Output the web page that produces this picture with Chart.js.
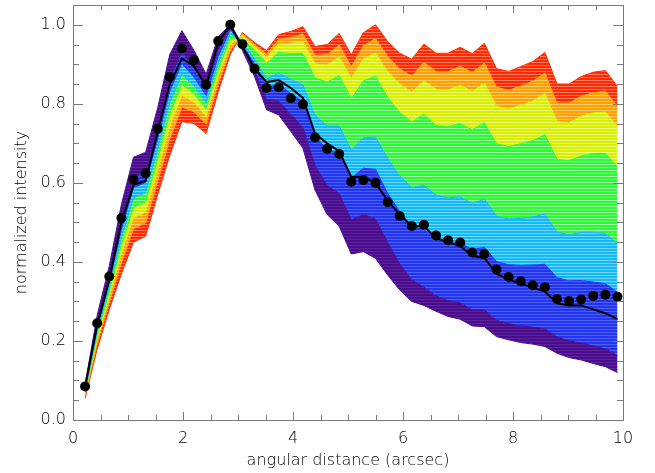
<!DOCTYPE html>
<html><head><meta charset="utf-8">
<script src="https://cdn.jsdelivr.net/npm/chart.js@4"></script>
<style>html,body{margin:0;padding:0;background:#fff}#wrap{width:655px;height:473px}</style>
</head><body><div id="wrap"><canvas id="c" width="655" height="473"></canvas></div>
<script>
// ---- data ----
const xArcsec = [0.22,0.44,0.66,0.88,1.10,1.32,1.54,1.76,1.98,2.20,2.42,2.64,2.86,3.08,3.30,3.52,3.74,3.96,4.18,4.40,4.62,4.84,5.06,5.28,5.50,5.72,5.94,6.16,6.38,6.60,6.82,7.04,7.26,7.48,7.70,7.92,8.14,8.36,8.58,8.80,9.02,9.24,9.46,9.68,9.90];

// envelope of the purple profiles
const purpleEdge = [0.09,0.265,0.39,0.545,0.665,0.677,0.79,0.925,0.985,0.935,0.875,0.97,1.0,0.935,0.869,0.785,0.772,0.73,0.688,0.582,0.52,0.49,0.42,0.426,0.409,0.367,0.329,0.30,0.29,0.275,0.262,0.255,0.238,0.236,0.211,0.203,0.196,0.192,0.186,0.169,0.158,0.152,0.143,0.135,0.12];
// purple / blue boundary
const purpleBlue = [0.082,0.245,0.365,0.505,0.616,0.628,0.739,0.866,0.932,0.892,0.841,0.938,0.995,0.94,0.884,0.811,0.807,0.773,0.740,0.644,0.593,0.573,0.506,0.520,0.509,0.450,0.395,0.355,0.336,0.314,0.302,0.296,0.279,0.279,0.252,0.244,0.238,0.235,0.231,0.210,0.200,0.195,0.187,0.180,0.163];
// blue / cyan boundary
const blueCyan = [0.077,0.234,0.350,0.482,0.588,0.601,0.711,0.833,0.902,0.868,0.821,0.920,0.988,0.948,0.902,0.842,0.849,0.826,0.805,0.720,0.683,0.675,0.612,0.637,0.634,0.574,0.527,0.490,0.482,0.458,0.448,0.448,0.431,0.437,0.401,0.393,0.391,0.392,0.394,0.360,0.352,0.353,0.349,0.345,0.323];
// cyan / green boundary
const cyanGreen = [0.073,0.224,0.337,0.461,0.562,0.575,0.684,0.803,0.875,0.846,0.803,0.903,0.978,0.955,0.914,0.863,0.878,0.862,0.848,0.771,0.744,0.744,0.682,0.714,0.716,0.663,0.617,0.588,0.594,0.569,0.562,0.565,0.548,0.559,0.516,0.509,0.510,0.514,0.521,0.475,0.469,0.475,0.475,0.472,0.446];
// green / yellow boundary
const greenYellow = [0.069,0.215,0.325,0.442,0.538,0.552,0.660,0.775,0.849,0.826,0.787,0.887,0.965,0.965,0.936,0.902,0.930,0.927,0.927,0.865,0.855,0.871,0.813,0.858,0.870,0.816,0.778,0.754,0.773,0.745,0.742,0.750,0.734,0.752,0.699,0.692,0.699,0.707,0.722,0.659,0.656,0.668,0.674,0.674,0.641];
// yellow / orange boundary
const yellowOrange = [0.065,0.205,0.312,0.421,0.512,0.526,0.634,0.744,0.822,0.804,0.769,0.871,0.950,0.972,0.945,0.917,0.951,0.953,0.958,0.901,0.898,0.919,0.864,0.914,0.929,0.881,0.850,0.830,0.858,0.837,0.835,0.847,0.831,0.853,0.794,0.787,0.796,0.807,0.826,0.755,0.753,0.769,0.777,0.779,0.743];
// orange / red boundary
const orangeRed = [0.061,0.194,0.298,0.398,0.484,0.499,0.605,0.711,0.792,0.780,0.749,0.852,0.935,0.977,0.950,0.926,0.963,0.968,0.977,0.923,0.924,0.949,0.894,0.947,0.965,0.920,0.889,0.870,0.905,0.882,0.881,0.895,0.879,0.903,0.842,0.834,0.845,0.857,0.878,0.802,0.802,0.819,0.828,0.832,0.793];
// envelope of the red profiles
const redEdge = [0.055,0.18,0.28,0.37,0.45,0.465,0.57,0.67,0.755,0.75,0.725,0.83,0.925,0.98,0.955,0.935,0.975,0.983,0.995,0.945,0.95,0.978,0.924,0.98,1.0,0.958,0.928,0.913,0.951,0.928,0.928,0.943,0.927,0.953,0.889,0.882,0.894,0.907,0.93,0.85,0.85,0.869,0.88,0.884,0.844];

// black profile (line) and black dots
const blackLine = [0.085,0.24,0.355,0.50,0.595,0.605,0.73,0.85,0.915,0.895,0.845,0.955,1.0,0.945,0.89,0.855,0.86,0.84,0.815,0.725,0.70,0.68,0.615,0.615,0.60,0.555,0.52,0.49,0.49,0.46,0.45,0.44,0.415,0.41,0.37,0.355,0.345,0.335,0.325,0.295,0.29,0.29,0.28,0.27,0.255];
const blackDots = [0.085,0.245,0.363,0.511,0.609,0.624,0.737,0.868,0.94,0.91,0.848,0.959,1.0,0.951,0.889,0.84,0.842,0.814,0.799,0.715,0.686,0.673,0.603,0.607,0.60,0.551,0.516,0.491,0.494,0.467,0.455,0.449,0.424,0.42,0.381,0.362,0.351,0.341,0.336,0.306,0.301,0.305,0.314,0.317,0.312];

const xTicks = [0,2,4,6,8,10];
const yTicks = [0.0,0.2,0.4,0.6,0.8,1.0];
const xMinorStep = 0.5, yMinorStep = 0.05;
const xTitle = 'angular distance (arcsec)';
const yTitle = 'normalized intensity';

// ---- styling ----
const curves = [purpleEdge, purpleBlue, blueCyan, cyanGreen, greenYellow, yellowOrange, orangeRed, redEdge];
const bandColors = ['#4a0c8e','#4a0c8e','#2236f0','#12b8f8','#30f838','#d8f000','#ffa000','#ff2a00'];
const gapAlpha = [0,0.1,0.2,0.4,0.55,0.5,0.45,0.4];

function stripe(color, a){
  const c = document.createElement('canvas'); c.width = 4; c.height = 3;
  const g = c.getContext('2d');
  g.fillStyle = color; g.fillRect(0,0,4,3);
  g.fillStyle = 'rgba(255,255,255,'+a+')'; g.fillRect(0,2,4,1);
  return g.createPattern(c,'repeat');
}

const datasets = curves.map((arr,k)=>({
  data: xArcsec.map((x,i)=>({x, y: arr[i]})),
  borderColor: bandColors[k],
  borderWidth: 1,
  backgroundColor: stripe(bandColors[k], gapAlpha[k]),
  fill: k === 0 ? false : '-1',
  pointRadius: 0, tension: 0, order: 2
}));
datasets.push({
  data: xArcsec.map((x,i)=>({x, y: blackLine[i]})),
  borderColor:'#000', borderWidth:2, pointRadius:0, fill:false, order:1
});
datasets.push({
  data: xArcsec.map((x,i)=>({x, y: blackDots[i]})),
  showLine:false, pointRadius:5, pointBackgroundColor:'#000', pointBorderColor:'#000', pointBorderWidth:0, order:0
});

const frame = {
  id:'frame',
  afterDraw(chart){
    const {ctx, chartArea:{left,right,top,bottom}, scales:{x,y}} = chart;
    ctx.save();
    ctx.strokeStyle = '#7a7a7a'; ctx.lineWidth = 1;
    ctx.strokeRect(Math.round(left)+0.5, Math.round(top)+0.5, Math.round(right-left), Math.round(bottom-top));
    const xmin = x.min, xmax = x.max;
    ctx.beginPath();
    for (let n = 0; xmin + n*xMinorStep <= xmax + 1e-9; n++){
      const v = xmin + n*xMinorStep;
      const px = Math.round(x.getPixelForValue(v)) + 0.5;
      const major = xTicks.some(t => Math.abs(t - v) < 1e-6);
      const L = major ? 8 : 5;
      ctx.moveTo(px, bottom); ctx.lineTo(px, bottom - L);
      ctx.moveTo(px, top); ctx.lineTo(px, top + L);
    }
    for (let n = 0; n*yMinorStep <= y.max + 1e-9; n++){
      const v = n*yMinorStep;
      const py = Math.round(y.getPixelForValue(v)) + 0.5;
      const major = yTicks.some(t => Math.abs(t - v) < 1e-6);
      const L = major ? 10 : 6;
      ctx.moveTo(left, py); ctx.lineTo(left + L, py);
      ctx.moveTo(right, py); ctx.lineTo(right - L, py);
    }
    ctx.stroke();
    ctx.restore();
  }
};

Chart.defaults.font.family = "'DejaVu Sans', sans-serif";
Chart.defaults.font.size = 16;
Chart.defaults.font.weight = '200';
Chart.defaults.color = '#000';

new Chart(document.getElementById('c'), {
  type:'line',
  data:{datasets},
  options:{
    responsive:false, animation:false, devicePixelRatio:1,
    layout:{padding:{top:5,right:32,left:0,bottom:0}},
    plugins:{legend:{display:false}, tooltip:{enabled:false}},
    scales:{
      x:{type:'linear', min:0, max:10,
        afterFit(s){ s.height = 53; s.paddingLeft = 0; s.paddingRight = 0; },
        afterBuildTicks(s){ s.ticks = xTicks.map(v=>({value:v})); },
        ticks:{padding:9, maxRotation:0, autoSkip:false, callback:v=>String(v)},
        grid:{display:false, drawTicks:false}, border:{display:false},
        title:{display:true, text:xTitle, padding:{top:0,bottom:3}}
      },
      y:{type:'linear', min:0, max:1.05,
        afterFit(s){ s.width = 73; s.paddingTop = 0; s.paddingBottom = 0; },
        afterBuildTicks(s){ s.ticks = yTicks.map(v=>({value:v})); },
        ticks:{padding:7, callback:v=>Number(v).toFixed(1)},
        grid:{display:false, drawTicks:false}, border:{display:false},
        title:{display:true, text:yTitle, padding:{top:12,bottom:0}}
      }
    }
  },
  plugins:[frame]
});
</script></body></html>
